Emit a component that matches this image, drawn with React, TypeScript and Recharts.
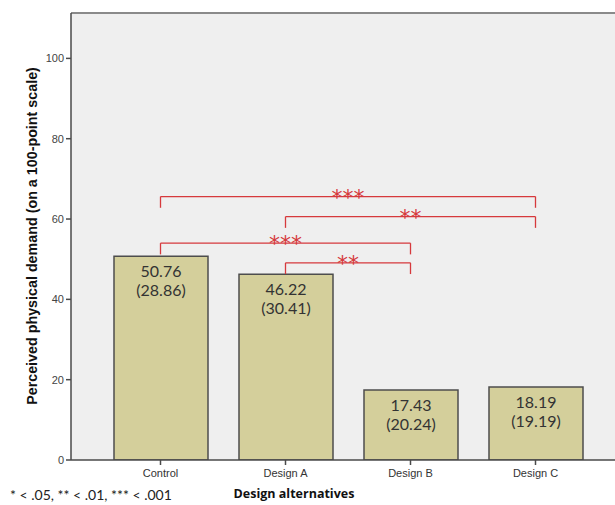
import React from "react";
import {
  ComposedChart,
  Bar,
  XAxis,
  YAxis,
  CartesianGrid,
  ReferenceLine,
  LabelList,
} from "recharts";

const designs = ["Control", "Design A", "Design B", "Design C"];
const means = [50.76, 46.22, 17.43, 18.19];
const sds = [28.86, 30.41, 20.24, 19.19];
const yTicks = [0, 20, 40, 60, 80, 100];

// significance brackets: pair, height on the y scale, stars
const bracketFrom = ["Control", "Design A", "Control", "Design A"];
const bracketTo = ["Design C", "Design C", "Design B", "Design B"];
const bracketY = [65.6, 60.6, 54.0, 49.1];
const bracketStars = ["***", "**", "***", "**"];
const bracketDrop = 2.8;

const Y_MAX = 111.3;
const RED = "#d6393c";
const AXIS = "#4a4a4a";

const data = designs.map((name, i) => ({ name, mean: means[i], sd: sds[i] }));

const BarValue = (props: any) => {
  const { x, y, width, index } = props;
  const cx = x + width / 2;
  return (
    <g>
      <text
        x={cx}
        y={y + 21}
        textAnchor="middle"
        fontFamily="Lato, 'Open Sans', sans-serif"
        fontSize={16}
        fill="#333"
      >
        {means[index].toFixed(2)}
      </text>
      <text
        x={cx}
        y={y + 40}
        textAnchor="middle"
        fontFamily="Lato, 'Open Sans', sans-serif"
        fontSize={16}
        fill="#333"
      >
        ({sds[index].toFixed(2)})
      </text>
    </g>
  );
};

const starLabel = (stars: string) => (props: any) => {
  const { viewBox } = props;
  if (!viewBox) return null;
  return (
    <text
      x={viewBox.x + viewBox.width / 2}
      y={viewBox.y + 8}
      textAnchor="middle"
      fontFamily="'DejaVu Sans', sans-serif"
      fontSize={22}
      fill={RED}
    >
      {stars}
    </text>
  );
};

const App: React.FC = () => {
  return (
    <div
      style={{
        position: "absolute",
        left: 0,
        top: 0,
        width: 615,
        height: 505,
        background: "#fff",
        overflow: "hidden",
      }}
    >
      <ComposedChart
        width={640}
        height={505}
        data={data}
        margin={{ top: 13, right: 0, bottom: 15, left: 0 }}
      >
        <CartesianGrid fill="#efefef" horizontal={false} vertical={false} />
        <XAxis
          dataKey="name"
          height={30}
          padding={{ left: 27, right: 42 }}
          stroke={AXIS}
          strokeWidth={1.5}
          tickSize={5}
          tick={{ fontSize: 11, fill: "#333", fontFamily: "'Liberation Sans', Arial" }}
          tickMargin={4}
        />
        <YAxis
          width={71}
          domain={[0, Y_MAX]}
          ticks={yTicks}
          allowDataOverflow
          stroke={AXIS}
          strokeWidth={1.5}
          tickSize={5}
          tickMargin={2}
          tick={{ fontSize: 11, fill: "#444", fontFamily: "'Liberation Sans', Arial" }}
        />
        <ReferenceLine y={Y_MAX} stroke="#8a8a8a" strokeWidth={2} />
        <Bar
          dataKey="mean"
          fill="#d4cf9b"
          stroke="#4d4d4d"
          strokeWidth={1.5}
          barSize={94}
          isAnimationActive={false}
        >
          <LabelList dataKey="mean" content={<BarValue />} />
        </Bar>
        {bracketFrom.map((from, i) => (
          <ReferenceLine
            key={`h${i}`}
            segment={[
              { x: from, y: bracketY[i] },
              { x: bracketTo[i], y: bracketY[i] },
            ]}
            stroke={RED}
            strokeWidth={1.3}
            label={starLabel(bracketStars[i])}
          />
        ))}
        {bracketFrom.map((from, i) => (
          <ReferenceLine
            key={`l${i}`}
            segment={[
              { x: from, y: bracketY[i] },
              { x: from, y: bracketY[i] - bracketDrop },
            ]}
            stroke={RED}
            strokeWidth={1.3}
          />
        ))}
        {bracketTo.map((to, i) => (
          <ReferenceLine
            key={`r${i}`}
            segment={[
              { x: to, y: bracketY[i] },
              { x: to, y: bracketY[i] - bracketDrop },
            ]}
            stroke={RED}
            strokeWidth={1.3}
          />
        ))}
      </ComposedChart>
      <div
        style={{
          position: "absolute",
          left: 32,
          top: 236,
          transform: "translate(-50%, -50%) rotate(-90deg)",
          whiteSpace: "nowrap",
          fontFamily: "'Liberation Sans', Arial, sans-serif",
          fontWeight: "bold",
          fontSize: 14.3,
          color: "#111",
        }}
      >
        Perceived physical demand (on a 100-point scale)
      </div>
      <div
        style={{
          position: "absolute",
          left: 294,
          top: 493,
          transform: "translate(-50%, -50%)",
          whiteSpace: "nowrap",
          fontFamily: "'Open Sans', 'Noto Sans', sans-serif",
          fontWeight: "bold",
          fontSize: 12.5,
          color: "#111",
        }}
      >
        Design alternatives
      </div>
      <div
        style={{
          position: "absolute",
          left: 10,
          top: 494,
          transform: "translateY(-50%)",
          whiteSpace: "nowrap",
          fontFamily: "Lato, 'Open Sans', sans-serif",
          fontSize: 14,
          color: "#222",
        }}
      >
        * &lt; .05, ** &lt; .01, *** &lt; .001
      </div>
    </div>
  );
};

export default App;
